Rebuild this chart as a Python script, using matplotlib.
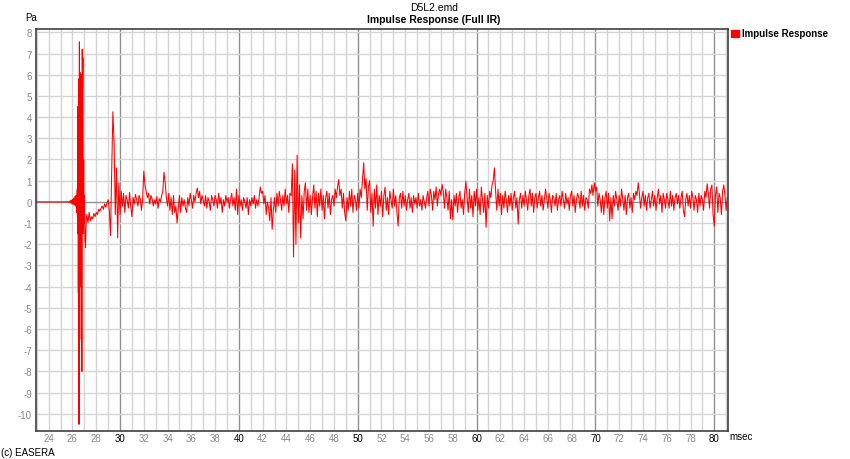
import numpy as np
import matplotlib.pyplot as plt

plt.rcParams['font.family'] = ['Liberation Sans', 'DejaVu Sans']

# direct sound burst, fine time steps (msec, Pa)
burst_t = [22.9, 25.5, 25.6, 25.7, 25.8, 25.85, 25.9, 25.95, 26.0, 26.05, 26.1, 26.15,
           26.2, 26.25, 26.3, 26.35, 26.4, 26.43, 26.46, 26.49, 26.52, 26.55, 26.58,
           26.61, 26.64, 26.67, 26.70, 26.73, 26.76, 26.79, 26.82, 26.85, 26.88, 26.91,
           26.94, 26.97, 27.0, 27.05, 27.1, 27.15]
burst_v = [0.0, 0.0, 0.02, -0.03, 0.05, -0.05, 0.08, -0.1, 0.12, -0.12, 0.18, -0.15,
           0.25, -0.2, 0.3, -0.5, 0.6, -1.5, 4.5, -4.3, 5.8, -10.5, 7.55,
           -6.5, 6.1, -4.0, 5.9, -2.0, 6.0, -8.0, 7.2, 5.3, 6.8, -1.5,
           2.0, -1.0, 0.3, -1.8, -2.15, -0.9]

# rest of the response, 0.1 msec steps from 27.2 msec
tail_start = 27.2
tail_step = 0.1
tail_v = [
    -0.6, -1.0, -0.5, -0.9, -0.7, -0.8, -0.55, -0.7,
    -0.5, -0.6, -0.35, -0.45, -0.3, -0.2, -0.35, -0.1, -0.25, -0.05,
    0.1, -0.4, -1.6, 1.5, 4.25, 2.8, -0.6, 1.6, -1.7, 0.9,
    -0.6, 0.5, -0.2, 0.4, -0.5, 0.3, 0.1, -0.3, 0.45, -0.2,
    -0.7, 0.2, -0.1, 0.35, 0.1, -0.2, 0.3, 0.15, -0.4, 0.1,
    1.45, 0.8, 0.5, 0.2, 0.4, -0.1, 0.3, 0.15, -0.2, 0.1,
    -0.1, 0.25, -0.3, 0.15, 0.0, 0.3, 0.5, 1.4, 0.9, 0.2,
    -0.2, 0.4, -0.4, 0.2, -0.6, 0.3, -0.5, -0.2, -1.0, -0.3,
    0.3, -0.5, 0.2, -0.2, 0.1, -0.3, -0.5, 0.2, -0.2, 0.4,
    0.1, -0.3, 0.3, 0.0, 0.4, 0.65, 0.2, 0.5, -0.1, 0.3,
    0.1, -0.2, 0.3, -0.3, 0.2, 0.0, -0.4, 0.3, 0.1, -0.2,
    0.3, 0.1, -0.3, 0.4, -0.1, 0.2, -0.5, 0.1, -0.2, 0.3,
    0.0, 0.2, -0.3, 0.1, 0.4, -0.2, 0.2, -0.4, 0.6, -0.6,
    0.3, -0.2, 0.1, -0.4, 0.2, 0.0, -0.3, 0.2, -0.6, 0.1,
    -0.2, 0.2, -0.1, 0.3, -0.3, 0.1, -0.2, 0.2, 0.7, 0.4,
    0.5, -0.1, 0.3, -0.6, 0.0, -0.3, -0.9, 0.2, -1.3, -0.4,
    0.2, -0.5, 0.4, -0.2, 0.5, 0.1, -0.4, 0.3, -0.2, 0.6,
    -0.1, 0.3, -0.5, 0.4, 0.3, 1.8, -2.6, 1.5, -2.0, 2.2,
    -1.0, 0.8, -1.7, 0.3, -0.8, 0.5, 0.9, -0.4, 0.6, -0.5,
    0.3, -0.6, 0.2, 0.8, -0.3, 0.5, -0.7, 0.4, -0.2, 0.6,
    -0.4, 0.3, -0.8, 0.2, 0.5, -0.3, 0.4, -0.6, 0.1, 0.3,
    -0.2, 0.6, 0.2, 0.7, 1.05, 0.3, 0.6, -0.3, 0.4, -0.5,
    -0.9, 0.2, -0.4, 0.5, -0.2, 0.6, -0.5, 0.3, 0.1, -0.4,
    0.4, -0.3, 0.6, 0.2, 1.0, 1.85, 0.6, 1.1, -0.4, 0.7,
    1.0, -0.5, 0.4, -1.15, 0.6, -0.3, 0.8, -0.6, 0.3, -0.2,
    0.5, -0.7, 0.3, 0.7, -0.4, 0.2, -0.6, 0.5, 0.1, -0.3,
    0.6, -0.2, 0.3, -0.5, -1.15, 0.2, 0.4, -0.3, 0.5, -0.2,
    0.3, -0.4, 0.1, 0.4, -0.3, 0.2, -0.5, 0.3, -0.1, 0.2,
    -0.3, 0.4, -0.2, 0.1, -0.4, 0.3, 0.0, -0.3, 0.2, 0.5,
    -0.2, 0.6, 0.3, -0.4, 0.5, 0.1, 0.7, -0.2, 0.4, 0.6,
    0.3, 0.82, 0.5, -0.3, 0.6, 0.2, -0.4, 0.5, -0.8, 0.1,
    -0.85, 0.3, -0.2, 0.4, -0.5, 0.2, 0.5, -0.3, 0.1, -0.6,
    0.4, 0.97, 0.2, -0.5, 0.6, -0.3, 0.3, -0.7, 0.5, -0.2,
    0.6, -0.4, 0.2, -0.6, 0.7, 0.1, -0.5, 0.4, -1.2, 0.3,
    -0.3, 0.5, 0.2, 0.8, 1.0, 1.6, 0.5, -0.4, 0.6, -0.2,
    0.4, -0.6, 0.3, -0.3, 0.5, 0.1, -0.5, 0.3, -0.2, 0.4,
    -0.4, 0.2, 0.5, -0.3, 0.2, -1.05, 0.1, 0.4, -0.3, 0.3,
    -0.2, 0.5, 0.1, -0.4, 0.3, 0.6, -0.2, 0.4, -0.5, 0.2,
    0.4, -0.3, 0.2, 0.5, -0.2, 0.3, -0.4, 0.1, 0.6, 0.2,
    -0.3, 0.4, 0.1, -0.5, 0.3, 0.2, -0.2, 0.4, -0.4, 0.1,
    0.3, -0.2, 0.5, 0.1, -0.3, 0.4, -0.1, 0.2, -0.4, 0.3,
    0.5, -0.2, 0.3, -0.5, 0.1, 0.4, 0.2, -0.3, 0.5, -0.2,
    0.3, -0.4, 0.2, 0.1, -0.3, 0.6, 0.4, 0.8, 0.3, 0.9,
    0.5, 0.7, -0.2, 0.4, 0.1, -0.5, 0.3, -0.6, 0.2, 0.5,
    -0.3, 0.4, -0.9, 0.2, -0.8, 0.3, -0.2, 0.5, 0.1, -0.4,
    0.3, -0.2, 0.6, 0.1, -0.4, 0.3, -0.6, 0.2, 0.4, -0.3,
    0.2, -0.5, 0.4, 0.1, 0.5, 0.3, 0.9, 0.4, -0.3, 0.2,
    0.5, -0.2, 0.3, -0.4, 0.2, 0.4, -0.3, 0.1, 0.5, -0.2,
    0.3, -0.4, 0.2, 0.6, -0.1, 0.3, -0.5, 0.4, 0.1, -0.3,
    0.4, 0.1, -0.3, 0.5, -0.2, 0.3, -0.4, 0.2, 0.4, -0.1,
    0.3, -0.3, 0.2, 0.5, -0.4, -0.7, 0.1, 0.4, -0.2, 0.3,
    -0.3, 0.5, 0.2, -0.4, 0.3, 0.1, -0.5, 0.4, -0.2, 0.3,
    0.1, -0.4, 0.5, 0.2, 0.85, 0.4, -0.3, 0.6, 0.8, -0.6,
    -1.15, 0.3, 0.7, -0.5, 0.4, 0.2, -0.6, 0.5, 0.8, 0.3,
    -0.4, 0.2,
]

x_ticks = list(range(24, 81, 2))
y_ticks = list(range(-10, 9))

tail_t = tail_start + tail_step * np.arange(len(tail_v))
t = np.concatenate([burst_t, tail_t])
v = np.concatenate([burst_v, tail_v])

fig = plt.figure(figsize=(8.5, 4.6), dpi=100)
ax = fig.add_axes([36/850, 1 - 431.7/460, (727.7 - 36)/850, (431.7 - 29.5)/460])
ax.set_xlim(22.93, 81.13)
ax.set_ylim(-10.8, 8.18)

# grid: 1 msec / 1 Pa, darker every 10 msec and at zero
for xv in range(23, 82):
    c = '#909090' if xv % 10 == 0 else '#d4d4d4'
    ax.axvline(xv, color=c, lw=1.0, zorder=0)
for yv in range(-10, 9):
    c = '#909090' if yv == 0 else '#d4d4d4'
    ax.axhline(yv, color=c, lw=1.0, zorder=0)

ax.plot(t, v, color='#ff0000', lw=0.75, zorder=2)

ax.set_xticks(x_ticks)
ax.set_xticklabels([str(x) for x in x_ticks], fontsize=7)
for lab, x in zip(ax.get_xticklabels(), x_ticks):
    lab.set_color('black' if x % 10 == 0 else '#8a8a8a')
ax.set_yticks(y_ticks)
ax.set_yticklabels([str(y) for y in y_ticks], fontsize=7, color='#8a8a8a')
ax.tick_params(axis='x', length=0, pad=2)
ax.tick_params(axis='y', length=0, pad=3)

for s in ax.spines.values():
    s.set_color('#404040')
    s.set_linewidth(1.2)

fig.text(434/850, 1 - 8/460, 'D5L2.emd', ha='center', va='center', fontsize=7.5)
fig.text(434/850, 1 - 20/460, 'Impulse Response (Full IR)', ha='center', va='center',
         fontsize=7.5, fontweight='bold')
fig.text(25/850, 1 - 18/460, 'Pa', ha='left', va='center', fontsize=7)
fig.text(729/850, 1 - 437/460, 'msec', ha='left', va='center', fontsize=7)
fig.text(1/850, 1 - 453/460, '(c) EASERA', ha='left', va='center', fontsize=7)

# legend
fig.patches.append(plt.Rectangle((731/850, 1 - 38/460), 8/850, 7/460,
                                 transform=fig.transFigure, color='#ff0000'))
fig.text(742/850, 1 - 34/460, 'Impulse Response', ha='left', va='center',
         fontsize=7, fontweight='bold')

fig.savefig('out.png', dpi=100)
